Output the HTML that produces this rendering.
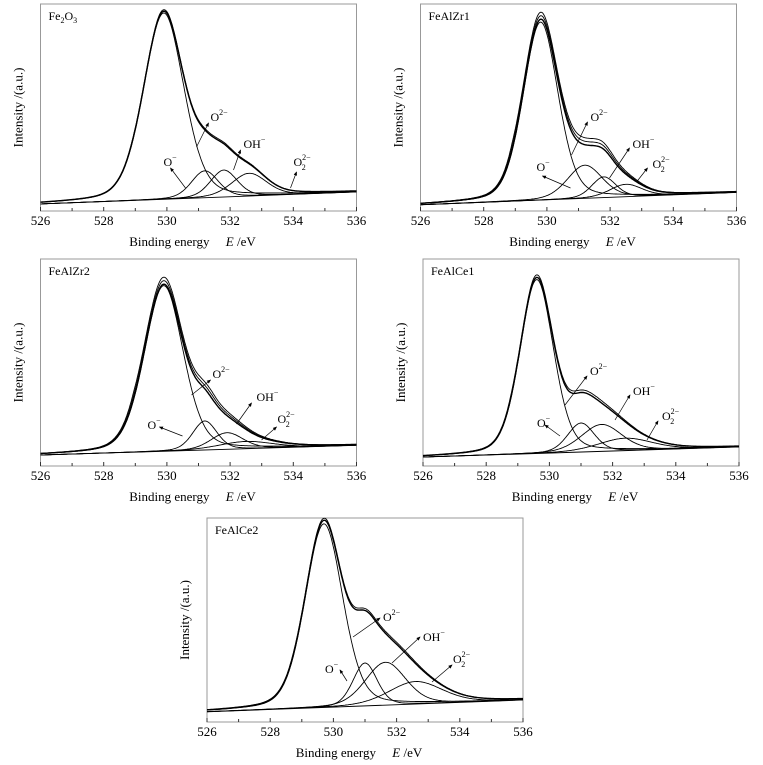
<!DOCTYPE html>
<html><head><meta charset="utf-8"><style>
html,body{margin:0;padding:0;background:#fff;}
svg{display:block;font-family:"Liberation Serif",serif;}
.pre{white-space:pre;}
</style></head><body>
<svg id="fig" width="763" height="765" viewBox="0 0 763 765">
<defs><marker id="ah" markerWidth="6" markerHeight="6" refX="5" refY="3" orient="auto"><path d="M0,0.5 L6,3 L0,5.5 Z" fill="#000"/></marker></defs>
</svg>
<script>
// ---- data ----
const panelNames = ["Fe2O3","FeAlZr1","FeAlZr2","FeAlCe1","FeAlCe2"];
const xTicks = [526,528,530,532,534,536];
const componentNames = ["O2-","O-","OH-","O22-"];
// baseline fractions at 526 and 536
const baseLeft = [0.034,0.03,0.053,0.043,0.05];
const baseRight = [0.092,0.09,0.10,0.092,0.108];
// peak centers (eV)
const centers = [[529.9,531.2,531.8,532.6],[529.8,531.2,531.8,532.5],[529.9,531.2,531.9,532.5],[529.6,531.0,531.65,532.4],[529.7,531.0,531.65,532.6]];
// peak heights (fraction of plot height)
const heights = [[0.90,0.13,0.13,0.11],[0.86,0.16,0.10,0.06],[0.80,0.14,0.08,0.035],[0.84,0.14,0.13,0.06],[0.90,0.21,0.21,0.11]];
// FWHM (eV)
const widths = [[1.5,1.0,1.0,1.3],[1.3,1.3,0.9,1.2],[1.45,0.9,1.2,2.0],[1.25,1.0,1.5,2.0],[1.4,0.9,1.5,2.0]];

// ---- layout (styling) ----
const boxes = [[40.5,4,316,207],[420.5,4,316,207],[40.5,259,316,207],[423,259,316,207],[207,518,316,204]];
const envOffsets = [[0,-1.5],[0,-3.5,-7],[0,-3.5,-7],[0,-2.5],[0,-2]];
const ann = [
 [["O2-",170,114,156,143,168,119],["OH-",203,141,193,166,200,146],["O-",123,159,145,184,130,164],["O22-",253,159,250,184,256,168]],
 [["O2-",170,114,151,151,167,118],["OH-",212,141,189,174,209,144],["O-",116,164,150,184,122,172],["O22-",232,161,216,178,227,164]],
 [["O2-",172,116,151,136,170,121],["OH-",216,139,196,165,211,144],["O-",107,167,142,177,119,168],["O22-",237,161,221,181,236,168]],
 [["O2-",167,113,142,146,164,117],["OH-",210,133,192,161,207,136],["O-",114,165,137,177,122,166],["O22-",239,158,224,181,235,162]],
 [["O2-",176,100,146,119,173,100],["OH-",216,120,185,145,213,119],["O-",118,152,140,163,133,152],["O22-",246,142,225,164,245,147]]
];
const svg=document.getElementById('fig');
const NS="http://www.w3.org/2000/svg";
function mk(t,a,p){const e=document.createElementNS(NS,t);for(const k in a)e.setAttribute(k,a[k]);(p||svg).appendChild(e);return e;}
function pv(x,c,h,w){const s=w/2.3548,g=Math.exp(-(x-c)*(x-c)/(2*s*s)),l=1/(1+Math.pow((x-c)/(w/2),2));return h*(0.75*g+0.25*l);}
function lbl(g,key,x,y){
  const t=mk('text',{x:x,y:y,'font-size':12,'dominant-baseline':'middle'},g);
  if(key==="O2-"){t.textContent="O";const s=mk('tspan',{'font-size':8,dy:-5},t);s.textContent="2−";}
  else if(key==="O-"){t.textContent="O";const s=mk('tspan',{'font-size':8,dy:-5},t);s.textContent="−";}
  else if(key==="OH-"){t.textContent="OH";const s=mk('tspan',{'font-size':8,dy:-5},t);s.textContent="−";}
  else {t.textContent="O";const s=mk('tspan',{'font-size':8,dy:-5},t);s.textContent="2−";const s2=mk('tspan',{'font-size':8,dx:-9,dy:10},t);s2.textContent="2";}
  return t;
}
panelNames.forEach((nm,i)=>{
  const [L,T,W,H]=boxes[i];
  const g=mk('g',{});
  
  
  const X=e=>L+(e-526)/10*W, Y=f=>T+H-f*H;
  const fr=mk('rect',{x:L,y:T,width:W,height:H,fill:'none',stroke:'#999','stroke-width':1},g);
  
  
  for(let e=526;e<=536;e++){
    const tk=mk('line',{x1:X(e),x2:X(e),y1:T+H,y2:T+H-(e%2===0?4:3),stroke:'#333','stroke-width':1},g);
    
    
  }
  xTicks.forEach(v=>{const t=mk('text',{x:X(v),y:T+H+14,'font-size':13,'text-anchor':'middle'},g);t.textContent=v;
    
    });
  const xt=mk('text',{x:L+W/2-6,y:T+H+35,'font-size':13,'text-anchor':'middle','class':'pre'},g);
  xt.textContent="Binding energy     ";const it=mk('tspan',{'font-style':'italic'},xt);it.textContent="E";
  const r=mk('tspan',{},xt);r.textContent=" /eV";
  
  
  const yt=mk('text',{x:0,y:0,'font-size':13,'text-anchor':'middle',transform:`translate(${L-18},${T+H/2}) rotate(-90)`},g);
  yt.textContent="Intensity /(a.u.)";
  
  
  const tt=mk('text',{x:L+8,y:T+16,'font-size':12},g);
  if(nm==="Fe2O3"){tt.textContent="Fe";const a=mk('tspan',{'font-size':8,dy:3},tt);a.textContent="2";const b=mk('tspan',{dy:-3},tt);b.textContent="O";const c=mk('tspan',{'font-size':8,dy:3},tt);c.textContent="3";}
  else tt.textContent=nm;
  
  
  const base=e=>baseLeft[i]+(baseRight[i]-baseLeft[i])*(e-526)/10;
  const N=300;
  const bl=mk('path',{d:`M${X(526)},${Y(base(526))}L${X(536)},${Y(base(536))}`,fill:'none',stroke:'#000','stroke-width':0.9},g);
  
  
  for(let k=0;k<4;k++){
    let d='';
    for(let j=0;j<=N;j++){const e=526+10*j/N;const v=base(e)+pv(e,centers[i][k],heights[i][k],widths[i][k]);d+=(j?'L':'M')+X(e).toFixed(1)+','+Y(v).toFixed(1);}
    const p=mk('path',{d:d,fill:'none',stroke:'#000','stroke-width':0.9},g);
    
    
  }
  envOffsets[i].forEach((off,q)=>{
    let d='';
    for(let j=0;j<=N;j++){const e=526+10*j/N;let v=base(e);for(let k=0;k<4;k++)v+=pv(e,centers[i][k],heights[i][k],widths[i][k]);
      const y=Y(v)+off*Math.min(1,(v-base(e))*4);d+=(j?'L':'M')+X(e).toFixed(1)+','+y.toFixed(1);}
    const p=mk('path',{d:d,fill:'none',stroke:'#000','stroke-width':q===0?1.4:0.9},g);
    
    
  });
  ann[i].forEach(a=>{
    const ln=mk('line',{x1:L+a[3],y1:T+a[4],x2:L+a[5],y2:T+a[6],stroke:'#000','stroke-width':0.7,'marker-end':'url(#ah)'},g);
    
    
    const t=lbl(g,a[0],L+a[1],T+a[2]);
    
    
  });
});
</script>
</body></html>
